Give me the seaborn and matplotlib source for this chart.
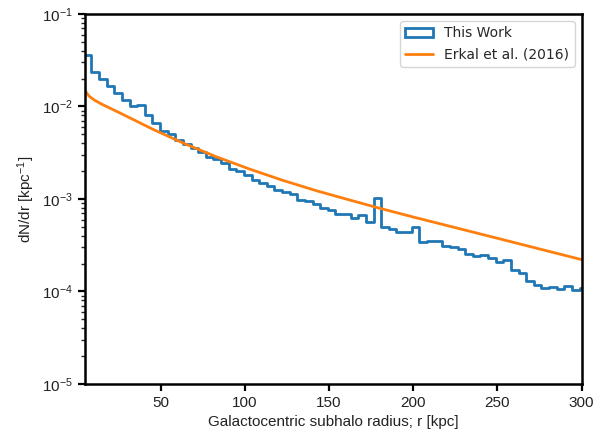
import numpy as np
import pandas as pd
import matplotlib
matplotlib.use("Agg")
import matplotlib.pyplot as plt
import matplotlib.patches as mpatches
import matplotlib.lines as mlines
import seaborn as sns

# Radial bins of the subhalo histogram [kpc]
bin_start_kpc = 4.3
bin_width_kpc = 4.53
n_bins = 66

# dN/dr per bin [kpc^-1]
dndr_this_work = [
    0.0360, 0.02339, 0.01979, 0.01675, 0.01386, 0.01173, 0.01018, 0.01035,
    0.00807, 0.00656, 0.00546, 0.00499, 0.00430, 0.00392, 0.00355, 0.00325,
    0.00281, 0.00268, 0.00242, 0.00211, 0.00203, 0.00180, 0.00162, 0.00149,
    0.00137, 0.00125, 0.00119, 0.00114, 0.00098, 0.00095, 0.000874, 0.000805,
    0.000751, 0.000692, 0.000685, 0.000627, 0.000668, 0.000565, 0.001025, 0.000501,
    0.000469, 0.000444, 0.000437, 0.000499, 0.000345, 0.000352, 0.000350, 0.000308,
    0.000303, 0.000290, 0.000254, 0.000239, 0.000248, 0.000233, 0.000206, 0.000221,
    0.000170, 0.000157, 0.000130, 0.000117, 0.000110, 0.000112, 0.000107, 0.000116,
    0.000104, 0.000110,
]

# Erkal et al. (2016) radial distribution
erkal_r = [5, 6.5, 8, 11, 15, 25, 35, 45, 63, 83, 103, 123, 143, 163, 180,
           200, 225, 250, 275, 300]
erkal_dndr = [0.01500, 0.01360, 0.01268, 0.01161, 0.01059, 0.00865, 0.00703,
              0.00571, 0.00405, 0.00286, 0.00210, 0.00158, 0.00122, 0.000966,
              0.000794, 0.000638, 0.000490, 0.000376, 0.000288, 0.000221]

x_ticks = [50, 100, 150, 200, 250, 300]

bin_edges = (bin_start_kpc + bin_width_kpc * np.arange(n_bins + 1)).tolist()
bin_centers = [0.5 * (a + b) for a, b in zip(bin_edges[:-1], bin_edges[1:])]
hist_df = pd.DataFrame({"r": bin_centers, "dndr": dndr_this_work})
erkal_df = pd.DataFrame({"r": erkal_r, "dndr": erkal_dndr})

sns.set_style("ticks")
plt.rcParams["font.family"] = ["Liberation Sans", "DejaVu Sans"]
plt.rcParams["mathtext.fontset"] = "custom"
plt.rcParams["mathtext.rm"] = "Liberation Sans"
plt.rcParams["mathtext.it"] = "Liberation Sans:italic"
plt.rcParams["mathtext.bf"] = "Liberation Sans:bold"

blue = "#1f77b4"
orange = "#ff7f0e"

fig = plt.figure(figsize=(6.11, 4.33), dpi=100)
ax = fig.add_axes([0.139, 0.1132, 0.813, 0.8545])

sns.histplot(data=hist_df, x="r", weights="dndr", bins=bin_edges,
             element="step", fill=False, color=blue, linewidth=2.0, ax=ax)
sns.lineplot(data=erkal_df, x="r", y="dndr", color=orange, linewidth=2.0, ax=ax)

ax.set_yscale("log")
ax.set_ylim(1e-5, 1e-1)
ax.set_xlim(5, 300)
ax.set_xticks(x_ticks)
ax.set_xticklabels([str(t) for t in x_ticks])

for side in ["top", "right", "bottom", "left"]:
    ax.spines[side].set_visible(True)
    ax.spines[side].set_linewidth(1.8)
    ax.spines[side].set_color("black")

ax.tick_params(axis="both", which="major", labelsize=11, length=5, width=1.6,
               direction="out", colors="black", labelcolor="#222222")
ax.tick_params(axis="y", which="minor", length=3, width=1.0, direction="out")

ax.set_xlabel("Galactocentric subhalo radius; r [kpc]", fontsize=11, color="#222222")
ax.set_ylabel(r"dN/dr [kpc$^{-1}$]", fontsize=11, color="#222222")

handles = [
    mpatches.Rectangle((0, 0), 1, 1, fill=False, edgecolor=blue, linewidth=2.0),
    mlines.Line2D([], [], color=orange, linewidth=2.0),
]
leg = ax.legend(handles, ["This Work", "Erkal et al. (2016)"], loc="upper right",
                prop={"family": "DejaVu Sans", "size": 10}, frameon=True,
                fancybox=True, framealpha=0.8, edgecolor="#cccccc")

fig.savefig("out.png", dpi=100)
